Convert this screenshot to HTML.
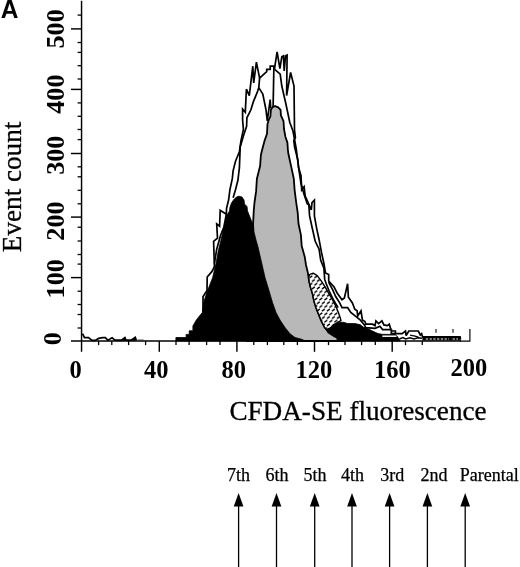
<!DOCTYPE html>
<html lang="en"><head><meta charset="utf-8"><title>Figure A</title>
<style>html,body{margin:0;padding:0;background:#fff}body{width:520px;height:567px;overflow:hidden}svg{display:block}.ser{font-family:"Liberation Serif","Times New Roman",serif}.sans{font-family:"Liberation Sans",Arial,sans-serif}</style></head><body>
<svg width="520" height="567" viewBox="0 0 520 567">
<defs><pattern id="ht" width="5" height="7.4" patternUnits="userSpaceOnUse" patternTransform="translate(309 275)"><rect width="5" height="7.4" fill="#fff"/><path d="M0.4 2.9 L3.3 0.8 M2.9 6.6 L5.8 4.5 M-2.1 6.6 L0.8 4.5" stroke="#000" stroke-width="1.35" fill="none"/></pattern></defs>
<rect width="520" height="567" fill="#fff"/>
<path d="M247.0 341.0 L250.0 300.0 L252.0 260.0 L253.0 225.0 L253.8 210.0 L254.5 202.5 L256.1 191.4 L256.9 178.7 L260.1 166.0 L260.9 155.0 L262.1 150.0 L264.6 140.6 L267.0 133.8 L267.5 124.1 L268.9 119.3 L270.4 116.4 L270.9 109.6 L272.8 106.9 L275.2 106.1 L278.2 107.3 L280.6 109.8 L280.9 115.4 L283.5 121.2 L284.0 129.0 L285.4 136.7 L287.4 142.6 L287.9 150.0 L288.3 153.3 L291.4 167.6 L293.8 178.7 L294.6 189.8 L296.2 202.5 L297.7 212.7 L298.5 223.8 L300.9 234.9 L301.7 246.0 L304.8 257.1 L306.0 265.0 L307.9 272.9 L309.0 280.9 L310.6 287.5 L312.6 294.1 L313.9 300.7 L315.9 307.3 L318.5 313.9 L321.2 320.6 L324.5 327.2 L326.5 329.6 L328.4 332.5 L333.0 335.5 L337.0 337.8 L341.3 338.9 L345.0 341.0 Z" fill="#b8b8b8" stroke="#000" stroke-width="1.8" stroke-linejoin="round"/>
<path d="M308.6 277.6 L309.9 274.3 L313.2 273.2 L317.2 275.6 L321.2 280.9 L325.1 286.8 L328.4 292.8 L332.4 299.4 L335.7 306.0 L338.4 312.6 L340.3 317.9 L341.0 320.6 L338.4 321.9 L334.4 324.5 L329.8 328.2 L326.5 329.6 L324.5 327.2 L321.2 320.6 L318.5 313.9 L315.9 307.3 L313.9 300.7 L312.6 294.1 L310.6 287.5 L309.0 280.9 Z" fill="url(#ht)" stroke="#000" stroke-width="1.4" stroke-linejoin="round"/>
<path d="M175.9 341.0 L175.9 337.5 L186.1 337.5 L186.1 334.4 L189.2 334.4 L189.2 330.8 L192.9 330.8 L192.9 326.0 L196.0 320.5 L199.0 316.6 L202.3 312.6 L203.9 301.5 L207.0 292.0 L212.6 277.7 L216.0 263.5 L218.3 250.8 L221.0 240.0 L223.0 231.0 L225.0 223.0 L227.0 215.0 L229.5 211.0 L230.0 207.0 L231.5 203.0 L233.5 200.0 L235.0 198.3 L237.0 196.8 L239.0 196.2 L242.0 197.0 L244.0 200.0 L244.5 204.0 L247.0 206.5 L247.5 211.0 L249.5 216.0 L251.5 221.0 L253.5 225.0 L254.0 232.0 L256.0 240.0 L258.0 247.0 L261.0 260.0 L265.0 277.5 L268.8 290.0 L272.5 302.5 L276.0 312.5 L280.0 320.0 L285.0 327.5 L290.0 333.8 L295.0 337.5 L302.5 339.5 L305.0 341.0 Z" fill="#000" stroke="#000" stroke-width="0.8"/>
<path d="M337.0 341.0 L337.0 337.8 L333.0 335.5 L328.4 332.5 L327.0 330.3 L329.8 328.6 L334.4 325.0 L338.4 322.3 L343.6 322.3 L347.6 323.5 L355.0 323.6 L360.4 324.7 L363.1 327.0 L368.5 329.0 L372.0 330.8 L375.2 332.3 L378.0 333.6 L381.9 334.3 L395.4 334.5 L397.0 336.0 L399.4 339.5 L400.0 341.0 Z" fill="#000" stroke="#000" stroke-width="0.8"/>
<g fill="none" stroke="#000" stroke-width="1.7" stroke-linejoin="miter" stroke-miterlimit="3">
<path d="M203.0 312.6 L203.0 296.7 L207.0 290.4 L207.2 277.0 L212.0 271.4 L214.4 266.7 L213.6 241.3 L217.5 238.1 L216.7 223.8 L219.6 226.2 L220.2 210.3 L226.3 214.3 L226.6 208.0 L228.6 200.0 L229.9 189.8 L232.3 178.7 L233.1 170.8 L235.5 161.3 L239.4 151.7 L241.0 140.6 L243.4 129.5 L242.6 120.0 L242.6 109.0 L245.3 112.2 L246.4 89.2 L249.3 95.6 L252.8 66.2 L253.7 82.9 L256.4 62.2 L259.6 78.1 L266.7 71.7 L266.7 69.4 L270.2 69.4 L270.2 66.2 L273.9 66.2 L274.4 69.4 L277.1 51.9 L279.9 68.6 L281.8 56.7 L283.4 55.9 L284.2 71.0 L285.5 55.9 L287.1 55.1 L286.6 95.6 L290.6 72.5 L294.0 86.0 L294.5 130.0 L295.4 137.5 L293.8 140.6 L294.6 147.0 L297.8 159.7 L298.6 167.6 L301.0 175.6 L301.7 189.8 L304.1 186.7 L305.2 196.2 L308.1 202.5 L311.3 210.0 L312.0 202.5 L314.4 200.0 L314.4 215.9 L316.7 228.6 L319.1 239.7 L321.5 252.4 L323.9 263.5 L325.5 273.0 L328.7 274.6 L328.7 281.0 L334.1 287.0 L337.3 293.3 L342.0 299.7 L344.4 298.0 L347.6 283.8 L348.4 297.3 L352.4 302.9 L354.8 309.2 L357.1 310.8 L357.7 316.0 L361.0 310.8 L362.4 320.0 L365.0 321.5 L365.8 324.2 L372.5 324.2 L375.0 325.6 L375.9 320.9 L378.6 323.6 L381.9 320.9 L383.9 324.9 L387.3 325.6 L389.3 324.2 L390.7 328.9 L392.0 331.0 L395.4 331.0 L395.4 333.6 L402.1 333.6 L405.5 331.0 L406.1 335.7 L408.8 331.0 L418.3 331.0 L420.3 335.0 L421.6 333.6 L422.6 336.9 L460.0 336.9 L460.6 339.5"/>
<path d="M226.3 214.3 L223.9 227.0 L220.7 235.0 L216.7 249.2 L214.4 263.5"/>
<path d="M233.1 197.8 L235.5 189.8 L237.9 180.3 L239.4 167.6 L240.2 147.0 L243.4 135.9 L246.6 126.3 L246.9 117.8 L250.9 109.8 L253.3 101.9 L257.2 92.4 L258.8 87.6 L259.6 78.1"/>
<path d="M258.8 87.6 L262.8 94.0 L266.0 109.8 L267.3 121.0 L270.2 99.5 L270.7 108.3"/>
<path d="M273.9 66.2 L273.1 106.7"/>
<path d="M274.7 69.4 L280.2 74.1 L281.8 86.0 L285.8 103.5 L289.8 122.5 L293.0 131.0 L296.2 148.6 L298.6 167.6 L301.0 183.5 L304.1 194.6 L307.3 204.0 L308.8 204.8 L309.6 215.9 L312.0 227.0 L315.2 241.3 L319.1 249.2 L320.7 260.3 L323.9 268.3 L324.7 279.4 L326.2 283.8 L329.4 291.7 L333.3 299.7 L338.1 307.6"/>
<path d="M328.6 282.2 L332.5 289.4 L335.7 296.5 L339.7 302.9 L342.0 307.6 L347.6 307.6 L350.8 312.4 L354.8 315.6 L360.4 320.2 L364.4 324.9 L365.8 327.6 L375.2 328.3 L379.9 326.2 L382.6 329.6 L391.3 329.6 L391.3 333.6 L395.4 333.6"/>
<path d="M82.5 333.6 L84.5 337.7 L88.5 337.7 L92.0 340.4 L95.3 340.4 L98.6 338.4 L102.7 337.7 L105.4 337.7 L108.0 340.4 L110.8 338.4 L112.1 337.7 L114.8 340.2 L121.5 340.2 L124.9 337.5 L126.0 340.2 L131.0 340.2 L135.3 337.3 L136.2 340.2"/>
</g>
<path d="M382.3 336.2 L396.5 336.2" fill="none" stroke="#fff" stroke-width="1.5"/>
<path d="M137.5 339.7 H143.5" stroke="#999" stroke-width="1.2"/>
<path d="M121.8 340.8 L125.2 336.9 L126.4 340.8 Z M131.4 340.8 L135.6 336.7 L136.6 340.8 Z" fill="#000"/>
<path d="M399.4 339 L403 337.6 L405.5 338.9 L410 337.8 L414 339 L418 337.8 L422 338.3" fill="none" stroke="#000" stroke-width="1.4"/>
<path d="M422.4 336.3 H460.4 V340.6 H422.4 Z" fill="#000"/>
<path d="M425.8 338.9 H449 M452.6 338.9 H458" fill="none" stroke="#fff" stroke-width="1.05" stroke-dasharray="2.3 1.45"/>
<path d="M410 335.2 L415 336.2 L418.5 337.2" fill="none" stroke="#000" stroke-width="1.3"/>
<g stroke="#000" stroke-width="1.45" fill="none">
<path d="M81.55 0.8 V351.8"/>
<path d="M71 340.95 H461"/>
<path d="M460 341.05 H469.9 V328.9" stroke-width="1.15"/>
<path d="M71 28.9 H81.55"/>
<path d="M71 89.4 H81.55"/>
<path d="M71 153.5 H81.55"/>
<path d="M71 217.1 H81.55"/>
<path d="M71 277.6 H81.55"/>
<path d="M159.3 340.95 V351.8"/>
<path d="M236.9 340.95 V351.8"/>
<path d="M314.5 340.95 V351.8"/>
<path d="M392.2 340.95 V351.8"/>
</g>
<g stroke="#000" stroke-width="1.3" fill="none">
<path d="M77.6 15.1 H81.55"/>
<path d="M77.6 42.5 H81.55"/>
<path d="M77.6 52.4 H81.55"/>
<path d="M77.6 65.7 H81.55"/>
<path d="M77.6 79.0 H81.55"/>
<path d="M77.6 102.9 H81.55"/>
<path d="M77.6 116.3 H81.55"/>
<path d="M77.6 129.5 H81.55"/>
<path d="M77.6 139.6 H81.55"/>
<path d="M77.6 166.8 H81.55"/>
<path d="M77.6 176.8 H81.55"/>
<path d="M77.6 190.3 H81.55"/>
<path d="M77.6 203.8 H81.55"/>
<path d="M77.6 227.2 H81.55"/>
<path d="M77.6 241.0 H81.55"/>
<path d="M77.6 254.5 H81.55"/>
<path d="M77.6 264.1 H81.55"/>
<path d="M77.6 291.2 H81.55"/>
<path d="M77.6 304.5 H81.55"/>
<path d="M77.6 314.5 H81.55"/>
<path d="M77.6 328.0 H81.55"/>
<path d="M98.6 340.95 V345.1"/>
<path d="M111.8 340.95 V345.1"/>
<path d="M128.6 340.95 V345.1"/>
<path d="M145.6 340.95 V345.1"/>
<path d="M176.0 340.95 V345.1"/>
<path d="M189.1 340.95 V345.1"/>
<path d="M206.6 340.95 V345.1"/>
<path d="M220.0 340.95 V345.1"/>
<path d="M253.8 340.95 V345.1"/>
<path d="M267.4 340.95 V345.1"/>
<path d="M283.8 340.95 V345.1"/>
<path d="M297.4 340.95 V345.1"/>
<path d="M328.5 340.95 V345.1"/>
<path d="M345.0 340.95 V345.1"/>
<path d="M361.6 340.95 V345.1"/>
<path d="M375.3 340.95 V345.1"/>
<path d="M405.5 340.95 V345.1"/>
<path d="M422.3 340.95 V345.1"/>
<path d="M436 328.9 V332.8 M453 328.9 V332.8" stroke-width="1.05"/>
</g>
<text class="sans" transform="translate(0.75 18.45) scale(0.955 1)" font-size="25.7" font-weight="bold" fill="#000">A</text>
<g class="ser" font-weight="bold" font-size="24.5" fill="#000" text-anchor="middle">
<text transform="translate(63.7 28.9) rotate(-90) scale(1.07 1)">500</text>
<text transform="translate(63.7 94.1) rotate(-90) scale(1.07 1)">400</text>
<text transform="translate(63.7 155.2) rotate(-90) scale(1.07 1)">300</text>
<text transform="translate(63.7 221.0) rotate(-90) scale(1.07 1)">200</text>
<text transform="translate(63.7 278.8) rotate(-90) scale(1.07 1)">100</text>
<text transform="translate(61.0 338.7) rotate(-90) scale(1.07 1)">0</text>
<text x="75.65" y="378.3">0</text>
<text x="156.25" y="378.3">40</text>
<text x="233.8" y="378.3">80</text>
<text x="313.85" y="378.3">120</text>
<text x="392.3" y="378.3">160</text>
<text x="468.75" y="376.1">200</text>
</g>
<g class="ser" fill="#000" stroke="#000" stroke-width="0.3">
<text transform="translate(20.9 186.9) rotate(-90) scale(0.97 1)" font-size="28" text-anchor="middle">Event count</text>
<text transform="translate(229.4 419.6) scale(0.988 1)" font-size="27.5">CFDA-SE fluorescence</text>
</g>
<g class="ser" font-size="18" fill="#000" stroke="#000" stroke-width="0.25" text-anchor="middle">
<text x="238.4" y="481.2">7th</text>
<text x="276.9" y="481.2">6th</text>
<text x="314.9" y="481.2">5th</text>
<text x="352.5" y="481.2">4th</text>
<text x="392.2" y="481.2">3rd</text>
<text x="434.1" y="481.2">2nd</text>
<text x="489.3" y="481.2">Parental</text>
</g>
<g stroke="#000" stroke-width="1.3" fill="#000">
<path d="M238.6 500 V567" fill="none"/>
<path d="M238.6 493.0 L243.45 506.5 H233.75 Z" stroke="none"/>
<path d="M276.5 500 V567" fill="none"/>
<path d="M276.5 493.0 L281.35 506.5 H271.65 Z" stroke="none"/>
<path d="M314.7 500 V567" fill="none"/>
<path d="M314.7 493.0 L319.55 506.5 H309.85 Z" stroke="none"/>
<path d="M352 500 V567" fill="none"/>
<path d="M352 493.0 L356.85 506.5 H347.15 Z" stroke="none"/>
<path d="M389.6 500 V567" fill="none"/>
<path d="M389.6 493.0 L394.45 506.5 H384.75 Z" stroke="none"/>
<path d="M427.4 500 V567" fill="none"/>
<path d="M427.4 493.0 L432.25 506.5 H422.55 Z" stroke="none"/>
<path d="M465.2 500 V567" fill="none"/>
<path d="M465.2 493.0 L470.05 506.5 H460.35 Z" stroke="none"/>
</g>
</svg></body></html>
